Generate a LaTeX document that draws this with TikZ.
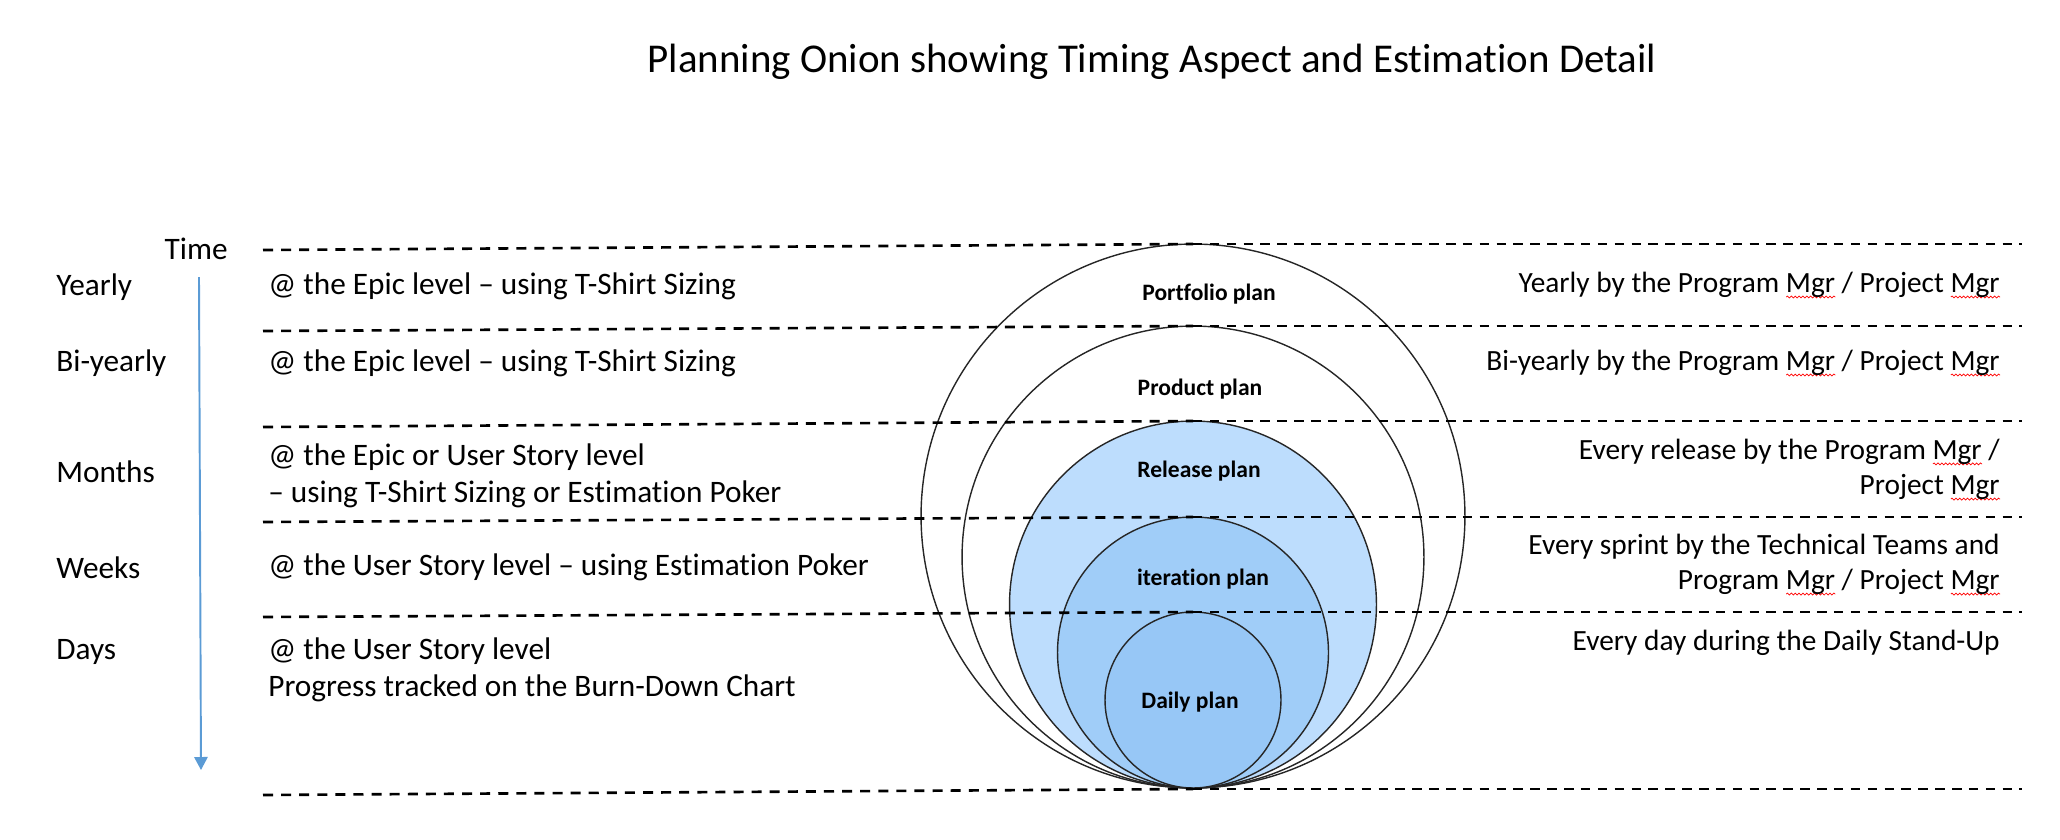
\documentclass[tikz,border=0pt]{standalone}
\usepackage{fontspec}
\setmainfont{Carlito}[Ligatures={TeX,NoCommon}]
\usepackage{tikz}
\usetikzlibrary{positioning,arrows.meta,decorations.pathmorphing}
\definecolor{releasefill}{RGB}{189,221,253}
\definecolor{iterfill}{RGB}{160,205,248}
\definecolor{dailyfill}{RGB}{151,199,246}
\definecolor{timeblue}{RGB}{91,155,213}
% red spell-check wave under Mgr
\newlength{\mgrwd}
\newcommand{\mgr}{\settowidth{\mgrwd}{Mgr}\rlap{\tikz[baseline=0pt]\draw[red, line width=0.4pt, decorate, decoration={snake, amplitude=0.55pt, segment length=2.2pt}] (0pt,-2.8pt) -- (\mgrwd,-2.8pt);}Mgr}

\begin{document}
\begin{tikzpicture}[
    x=0.02cm, y=-0.02cm,
    cutleft/.style={dash pattern=on 5.7pt off 4.6pt, line width=1.5pt},
    cutright/.style={dash pattern=on 5.4pt off 4.2pt, line width=1pt},
    layer/.style={draw=black!85, line width=0.8pt},
    plan/.style={inner sep=0pt, font=\fontsize{13.4}{16}\selectfont\bfseries},
    period/.style={anchor=west, inner sep=0pt, font=\fontsize{17.8}{21}\selectfont},
    detail/.style={anchor=west, inner sep=0pt, align=left, font=\fontsize{17.8}{21}\selectfont},
    owner/.style={anchor=east, inner sep=0pt, align=right, font=\fontsize{16.7}{20}\selectfont},
    arrow/.style={-{Triangle[length=7.4pt,width=7.6pt]}, line width=1.1pt, draw=timeblue, fill=timeblue}
]
\useasboundingbox (0,0) rectangle (2060,839);

\node[font=\fontsize{23.3}{28}\selectfont] (title) at (1152,62) {Planning Onion showing Timing Aspect and Estimation Detail};

% the onion
\draw[layer] (1193,516) circle[radius=5.44cm];
\draw[layer] (1193,557) circle[radius=4.62cm];
\draw[layer, fill=releasefill] (1193,604.5) circle[radius=3.67cm];
\draw[layer, fill=iterfill] (1193,652.5) circle[radius=2.71cm];
\draw[layer, fill=dailyfill] (1193,700) circle[radius=1.76cm];

\node[plan] (portfolio) at (1209,294) {Portfolio plan};
\node[plan] (product) at (1200,389) {Product plan};
\node[plan] (release) at (1199,471) {Release plan};
\node[plan] (iteration) at (1203,579) {iteration plan};
\node[plan] (daily) at (1190,702) {Daily plan};

% horizon lines
\draw[cutleft] (263,250) -- (1193,244);
\draw[cutright] (1193,244) -- (2022,244);
\draw[cutleft] (263,331) -- (1193,326);
\draw[cutright] (1193,326) -- (2022,326);
\draw[cutleft] (263,427) -- (1193,421);
\draw[cutright] (1193,421) -- (2022,421);
\draw[cutleft] (263,522) -- (1193,517);
\draw[cutright] (1193,517) -- (2022,517);
\draw[cutleft] (263,617) -- (1193,612);
\draw[cutright] (1193,612) -- (2022,612);
\draw[cutleft] (263,795) -- (1193,789);
\draw[cutright] (1193,789) -- (2022,789);

% time axis
\node[period, anchor=east] (time) at (228,249) {Time};
\coordinate (tstart) at (199,277);
\coordinate (tend) at (201,770);
\draw[arrow] (tstart) -- (tend);

\node[period] (yearly) at (56,287) {Yearly};
\node[period] (biyearly) at (56,363) {Bi-yearly};
\node[period] (months) at (56,472) {Months};
\node[period] (weeks) at (56,568) {Weeks};
\node[period] (days) at (56,652) {Days};

\node[detail] (yearly_d) at (268,286) {@ the Epic level – using T-Shirt Sizing};
\node[detail] (biyearly_d) at (268,363) {@ the Epic level – using T-Shirt Sizing};
\node[detail] (months_d) at (268,475.5) {@ the Epic or User Story level\\– using T-Shirt Sizing or Estimation Poker};
\node[detail] (weeks_d) at (268,567) {@ the User Story level – using Estimation Poker};
\node[detail] (days_d) at (268,669.5) {@ the User Story level\\Progress tracked on the Burn-Down Chart};

\node[owner] (yearly_o) at (2000,285) {Yearly by the Program \mgr{} / Project \mgr};
\node[owner] (biyearly_o) at (2000,363) {Bi-yearly by the Program \mgr{} / Project \mgr};
\node[owner] (months_o) at (2000,469.5) {Every release by the Program \mgr{} /\\Project \mgr};
\node[owner] (weeks_o) at (2000,564.5) {Every sprint by the Technical Teams and\\Program \mgr{} / Project \mgr};
\node[owner] (days_o) at (2000,643) {Every day during the Daily Stand-Up};

\end{tikzpicture}
\end{document}
